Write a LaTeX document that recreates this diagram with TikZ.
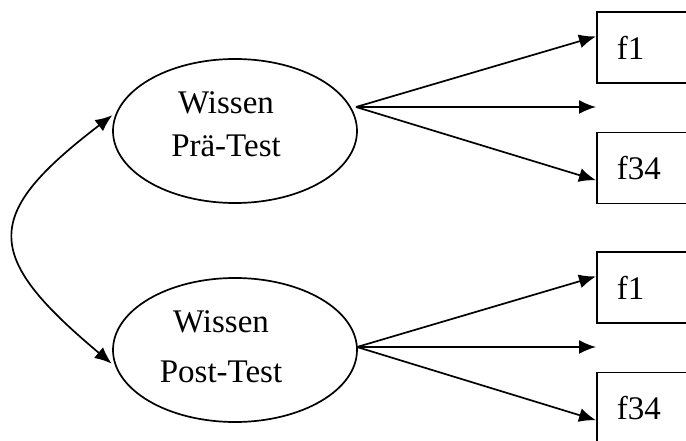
\documentclass[tikz,border=0pt]{standalone}
\usepackage{fontspec}
\setmainfont{Liberation Serif}
\usetikzlibrary{arrows.meta,shapes.geometric}
\tikzset{
    latent/.style = {draw, ellipse, line width=1.7pt,
        minimum width=244pt, minimum height=144pt},
    txt/.style = {align=center, font=\fontsize{33}{43}\selectfont},
    item/.style = {draw, rectangle, line width=1.7pt, anchor=west,
        minimum height=71pt, text width=84pt, inner xsep=20pt, align=left,
        font=\fontsize{33}{40}\selectfont},
    arrow/.style = {draw, -{Latex[length=17pt,width=14pt]}, line width=1.7pt},
    corr/.style = {draw, {Latex[length=17pt,width=14pt]}-{Latex[length=17pt,width=14pt]}, line width=1.7pt}
}

\begin{document}
\begin{tikzpicture}[x=1pt, y=-1pt]
    \useasboundingbox (0,0) rectangle (686,441);
    \clip (0,0) rectangle (686,441);
    % latent factors
    \node [latent] (pre) at (235,131) {};
    \node [txt] (pretxt) at (226,124) {Wissen\\Prä-Test};
    \node [latent] (post) at (235,350) {};
    \node [txt] (posttxt) at (221,347) {Wissen\\[7pt]Post-Test};
    % items
    \node [item] (pref1) at (596,47.5) {f1};
    \node [item] (pref34) at (596,168) {f34};
    \coordinate (premid) at (596,107);
    \node [item] (postf1) at (596,287.5) {f1};
    \node [item] (postf34) at (596,408) {f34};
    \coordinate (postmid) at (596,347);
    % loadings
    \coordinate (preout) at (356,107);
    \coordinate (postout) at (357,347);
    \draw [arrow] (preout) -- (pref1.170);
    \draw [arrow] (preout) -- (premid);
    \draw [arrow] (preout) -- (pref34.191);
    \draw [arrow] (postout) -- (postf1.170);
    \draw [arrow] (postout) -- (postf34.191);
    \draw [arrow] (postout) -- (postmid);
    % correlation
    \draw [corr, shorten <=5pt, shorten >=5pt] (post.188) .. controls (-18,255) and (-18,215) .. (pre.171);
\end{tikzpicture}
\end{document}
